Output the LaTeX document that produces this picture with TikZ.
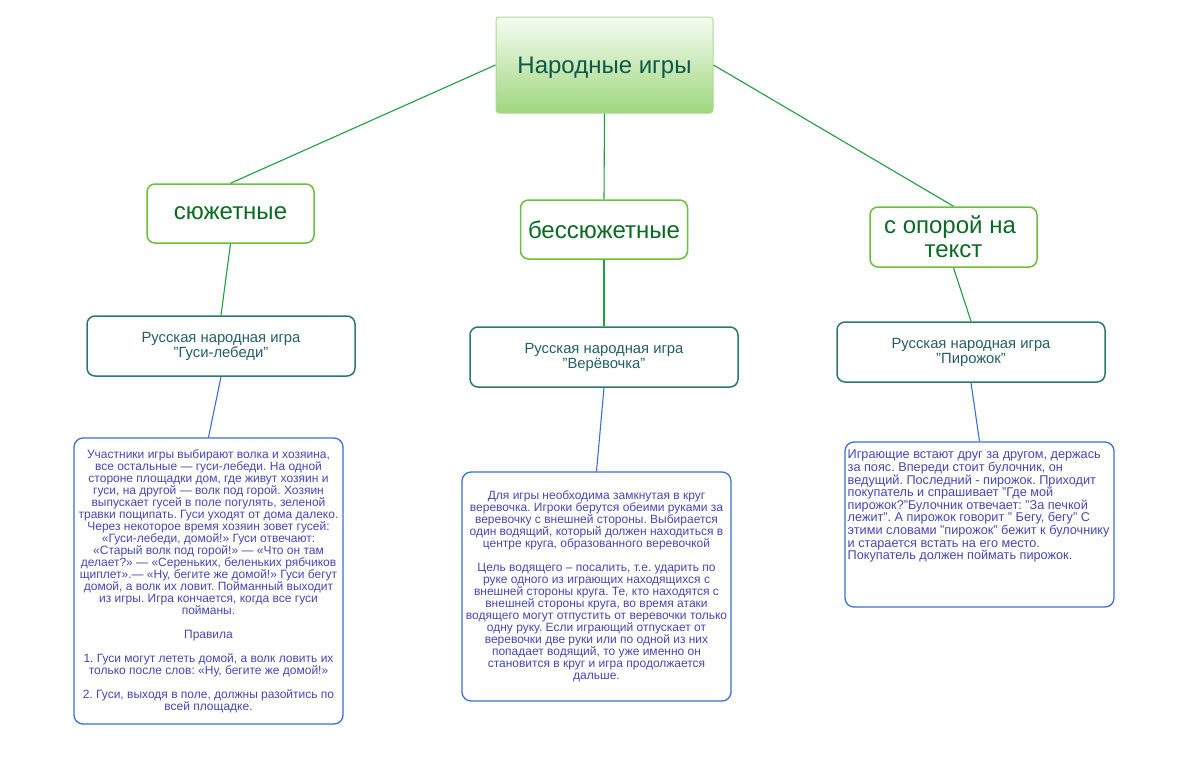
\documentclass[tikz,border=0pt]{standalone}
\usepackage{fontspec}
\setmainfont{Liberation Sans}
\frenchspacing
\definecolor{cgreenline}{HTML}{1E9E3E}
\definecolor{ccatborder}{HTML}{6CBF3A}
\definecolor{ccattext}{HTML}{0B6A22}
\definecolor{croottext}{HTML}{0E5A48}
\definecolor{crootborder}{HTML}{A8DC90}
\definecolor{crootbot}{HTML}{9ED67E}
\definecolor{croottop}{HTML}{F6FCF2}
\definecolor{cgameborder}{HTML}{2B7A68}
\definecolor{cgametext}{HTML}{245E62}
\definecolor{cblue}{HTML}{3A6FD8}
\definecolor{cbodytext}{HTML}{4646B4}
\tikzset{
  rootbox/.style={draw=crootborder, line width=1pt, rounded corners=3pt, top color=croottop, bottom color=crootbot, inner sep=0pt},
  roottext/.style={text=croottext, font=\fontsize{24}{28}\selectfont, inner sep=0pt},
  catbox/.style={draw=ccatborder, line width=1.5pt, rounded corners=8pt, fill=white, text=ccattext, font=\fontsize{24}{24}\selectfont, inner sep=0pt, align=center, minimum width=167pt, minimum height=59pt},
  gamebox/.style={draw=cgameborder, line width=1.5pt, rounded corners=8pt, fill=white, text=cgametext, font=\fontsize{14.8}{15}\selectfont, inner sep=0pt, align=center, minimum width=268pt, minimum height=60pt},
  textbox/.style={draw=cblue, line width=1.3pt, rounded corners=9pt, fill=white, text=cbodytext, font=\fontsize{12}{12}\selectfont, inner sep=0pt, align=center, minimum width=269pt},
  greenline/.style={draw=cgreenline, line width=1.1pt},
  blueline/.style={draw=cblue, line width=1.1pt}
}
\begin{document}
\begin{tikzpicture}[x=1pt,y=-1pt]
\useasboundingbox (0,0) rectangle (1193,771);
\fill[white] (0,0) rectangle (1193,771);

\node[rootbox, minimum width=217pt, minimum height=96pt] (root) at (604.5,65) {};
\node[roottext] (rootlabel) at (604.5,68) {Народные игры};

\node[catbox] (sj) at (230.5,213.5) {\raisebox{-2pt}{сюжетные}};
\node[catbox] (bs) at (604,229.5) {бессюжетные};
\node[catbox, minimum height=60pt] (op) at (953.5,237) {с опорой на\hspace*{7pt}\\текст};

\node[gamebox] (gl) at (221,346) {Русская народная игра\\"Гуси-лебеди"};
\node[gamebox] (gv) at (604,357) {Русская народная игра\\"Верёвочка"};
\node[gamebox] (gp) at (971,352) {Русская народная игра\\"Пирожок"};

\node[textbox, minimum height=286pt] (gt) at (208.5,581) {Участники игры выбирают волка и хозяина,\\
все остальные — гуси-лебеди. На одной\\
стороне площадки дом, где живут хозяин и\\
гуси, на другой — волк под горой. Хозяин\\
выпускает гусей в поле погулять, зеленой\\
травки пощипать. Гуси уходят от дома далеко.\\
Через некоторое время хозяин зовет гусей:\\
«Гуси-лебеди, домой!» Гуси отвечают:\\
«Старый волк под горой!» — «Что он там\\
делает?» — «Сереньких, беленьких рябчиков\\
щиплет».— «Ну, бегите же домой!» Гуси бегут\\
домой, а волк их ловит. Пойманный выходит\\
из игры. Игра кончается, когда все гуси\\
пойманы.\\[12pt]
Правила\\[12pt]
1. Гуси могут лететь домой, а волк ловить их\\
только после слов: «Ну, бегите же домой!»\\[12pt]
2. Гуси, выходя в поле, должны разойтись по\\
всей площадке.};

\node[textbox, minimum height=229pt] (vt) at (596.5,586.5) {Для игры необходима замкнутая в круг\\
веревочка. Игроки берутся обеими руками за\\
веревочку с внешней стороны. Выбирается\\
один водящий, который должен находиться в\\
центре круга, образованного веревочкой\hspace*{34pt}\\[12pt]
Цель водящего – посалить, т.е. ударить по\\
руке одного из играющих находящихся с\\
внешней стороны круга. Те, кто находятся с\\
внешней стороны круга, во время атаки\\
водящего могут отпустить от веревочки только\\
одну руку. Если играющий отпускает от\\
веревочки две руки или по одной из них\\
попадает водящий, то уже именно он\\
становится в круг и игра продолжается\\
дальше.};

\node[textbox, minimum height=165pt] (pt) at (979.5,524.5) {};
\node[anchor=north west, inner sep=0pt, align=left, text=cbodytext, font=\fontsize{12.7}{12.6}\selectfont] (ptt) at (847.5,450) {Играющие встают друг за другом, держась\\
за пояс. Впереди стоит булочник, он\\
ведущий. Последний - пирожок. Приходит\\
покупатель и спрашивает "Где мой\\
пирожок?"Булочник отвечает: "За печкой\\
лежит". А пирожок говорит " Бегу, бегу" С\\
этими словами "пирожок" бежит к булочнику\\
и старается встать на его место.\\
Покупатель должен поймать пирожок.};

\draw[greenline] (root.west) -- (sj.north);
\draw[greenline] (root.south) -- (bs.north);
\draw[greenline] (root.east) -- (op.north);
\draw[greenline] (sj.south) -- (gl.north);
\draw[greenline] (bs.south) -- (gv.north);
\draw[greenline] (op.south) -- (gp.north);
\draw[blueline] (gl.south) -- (gt.north);
\draw[blueline] (gv.south) -- (vt.north);
\draw[blueline] (gp.south) -- (pt.north);
\end{tikzpicture}
\end{document}
